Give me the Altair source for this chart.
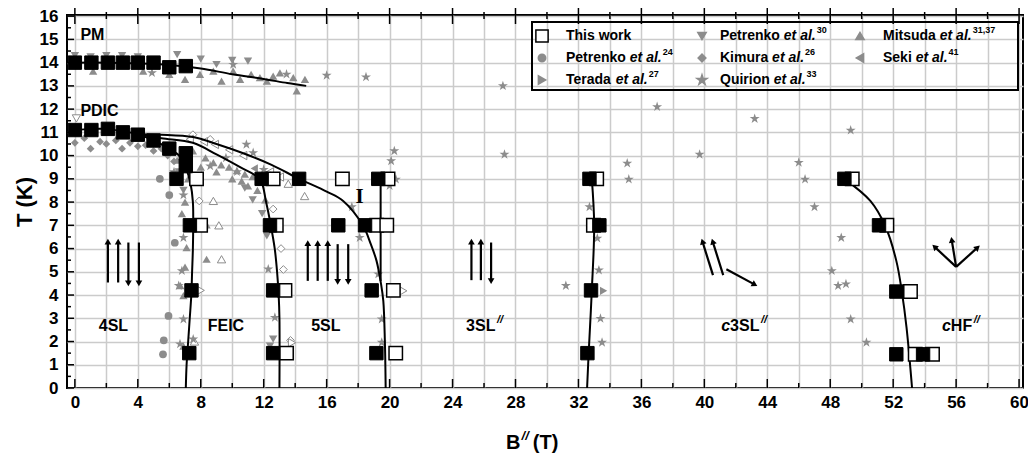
import math
import altair as alt
import pandas as pd

FONT = "Liberation Sans"
SERIF = "Liberation Serif"
GRAY = "#8c8c8c"
GRID = "#cbcbcb"

# ---------------- plot frame / scales ----------------
W, H = 956, 373
X_DOMAIN = [-0.5, 60.25]
Y_DOMAIN = [0.0, 16.05]
PX_B = W / (X_DOMAIN[1] - X_DOMAIN[0])
PX_T = H / (Y_DOMAIN[1] - Y_DOMAIN[0])

x_grid = list(range(0, 61, 2))
x_major = list(range(0, 61, 4))
x_minor = [v for v in x_grid if v % 4]
y_major = list(range(0, 17))
y_minor = [v + 0.5 for v in range(0, 16)]

# ---------------- This work ----------------
tw_fill_B = [0.0, 1.05, 2.1, 3.05, 4.0, 5.0, 6.0, 7.05,
             0.0, 1.05, 2.1, 3.05, 4.0, 5.0, 6.0, 7.05, 7.05,
             6.46, 11.87, 14.25, 19.28, 32.7, 48.9,
             7.31, 12.4, 16.74, 18.44, 33.33, 51.1,
             7.41, 12.6, 18.86, 32.8, 52.2,
             7.27, 12.6, 19.16, 32.57, 52.2, 53.9]
tw_fill_T = [14.0, 14.0, 14.0, 14.0, 14.0, 14.0, 13.8, 13.85,
             11.1, 11.1, 11.15, 11.0, 10.9, 10.65, 10.3, 10.1, 9.55,
             9.0, 9.0, 9.0, 9.0, 9.0, 9.0,
             7.0, 7.0, 7.0, 7.0, 7.0, 7.0,
             4.2, 4.2, 4.2, 4.2, 4.15,
             1.5, 1.5, 1.5, 1.5, 1.45, 1.45]
tw_open_B = [7.73, 12.6, 17.0, 19.9, 33.16, 49.4,
             7.99, 12.8, 19.18, 19.82, 32.95, 51.6,
             13.35, 20.24, 53.1,
             13.45, 20.39, 53.4, 54.5]
tw_open_T = [9.0, 9.0, 9.0, 9.0, 9.0, 9.0,
             7.0, 7.0, 7.0, 7.0, 7.0, 7.0,
             4.2, 4.2, 4.15,
             1.5, 1.5, 1.45, 1.45]

# ---------------- literature data (grey) ----------------
p24_B = [5.4, 6.0, 6.35, 5.95, 5.65, 5.6]
p24_T = [9.0, 8.3, 6.25, 3.1, 2.05, 1.45]

ter_B = [33.6]
ter_T = [4.18]
ter_open_B = [20.87, 8.0, 13.8]
ter_open_T = [4.18, 4.2, 1.95]

p30_B = [0.0, 1.0, 2.0, 3.0, 4.0, 6.5, 8.0, 9.0, 10.0, 11.0,
         6.6, 6.9, 10.8, 11.3, 11.9, 12.2, 12.6, 12.4]
p30_T = [14.3, 14.25, 14.3, 14.3, 14.25, 14.35, 14.15, 13.92, 14.1, 14.07,
         9.3, 8.5, 8.6, 8.1, 7.5, 6.55, 2.1, 1.8]
p30_open_B = [0.1]
p30_open_T = [11.6]

kim_B = [0.0, 0.6, 1.0, 1.6, 2.0, 2.6, 3.0, 3.5, 4.0, 4.5, 5.0, 5.5, 5.9, 6.3, 6.7]
kim_T = [10.55, 10.75, 10.3, 10.6, 10.5, 10.65, 10.3, 10.55, 10.4, 10.45, 10.2, 10.3, 10.0, 9.75, 9.3]
kim_open_B = [7.5, 8.6, 12.6, 13.1, 13.25, 13.7, 7.9]
kim_open_T = [10.9, 10.7, 7.7, 6.0, 5.1, 2.05, 8.05]

qui_B = [4.9, 10.06, 13.45, 16.0, 18.5, 27.2,
         10.9, 11.33, 9.6, 8.6, 10.3, 12.0,
         20.3, 20.1, 20.4, 20.0, 17.6, 18.1, 19.28, 19.5, 19.5,
         6.9, 6.8, 6.6, 6.9, 7.52, 6.68, 12.29, 12.71, 6.3, 6.9,
         27.3, 35.1, 35.2, 39.7, 37.0, 32.7, 33.2, 33.3, 31.2, 33.4, 33.5,
         43.2, 49.3, 46.0, 46.4, 47.0, 48.7, 48.1, 48.5, 49.0, 49.3, 50.3]
qui_T = [13.56, 13.92, 13.5, 13.45, 13.38, 13.0,
         10.48, 10.12, 9.9, 9.55, 9.3, 9.4,
         10.2, 9.77, 8.98, 8.7, 7.79, 6.47, 4.9, 2.96, 1.96,
         6.47, 5.04, 4.4, 2.96, 2.1, 1.89, 5.11, 3.03, 9.3, 8.3,
         10.05, 9.67, 8.98, 10.05, 12.1, 7.79, 6.44, 5.07, 4.4, 2.99, 1.96,
         11.59, 11.09, 9.7, 8.98, 7.79, 6.47, 5.04, 4.4, 4.47, 2.96, 1.96]

mit_B = [1.16, 4.34, 6.0, 7.0, 7.95, 8.8, 9.32, 10.06, 10.5, 11.2, 11.76, 12.2, 12.6, 13.03,
         13.88, 14.1, 14.62,
         6.5, 6.9, 7.2, 7.5, 8.0, 8.3, 8.8, 9.3, 9.8, 10.3, 10.8, 11.3, 9.0, 10.0, 10.6,
         11.6, 12.1, 11.0,
         7.1, 6.9, 6.8, 7.0, 6.9, 8.37, 8.37, 6.7, 7.0]
mit_T = [13.64, 13.64, 13.5, 13.28, 13.5, 13.64, 13.2, 13.64, 13.28, 13.5, 13.35, 13.2, 13.42, 13.56,
         13.35, 12.78, 13.28,
         9.8, 9.4, 9.0, 10.2, 9.5, 9.9, 9.7, 9.6, 9.5, 9.35, 9.2, 9.1, 9.3, 9.0, 8.9,
         8.5, 8.1, 8.7,
         6.04, 3.97, 7.5, 5.2, 1.8, 5.54, 7.02, 4.4, 8.0]
mit_open_B = [8.8, 9.15, 9.32, 13.56, 14.6, 7.6]
mit_open_T = [8.05, 7.0, 5.54, 8.79, 8.26, 2.0]

sek_B = [11.4, 12.2]
sek_T = [9.45, 9.15]
sek_open_B = [7.3, 8.2, 8.9, 9.8, 10.7, 13.03, 12.4]
sek_open_T = [10.7, 10.6, 10.48, 10.25, 10.0, 9.08, 9.3]

# ---------------- phase boundaries ----------------
pm_B = [0.0, 2.0, 4.0, 6.0, 8.0, 10.0, 12.0, 13.5, 14.7]
pm_T = [14.0, 14.0, 13.97, 13.9, 13.75, 13.5, 13.3, 13.12, 13.0]

feic_B = [0.0, 1.0, 2.0, 3.0, 4.0, 5.0, 6.0, 6.7, 7.1, 7.35, 7.5, 7.52, 7.5, 7.45, 7.4, 7.3, 7.2, 7.1, 7.05]
feic_T = [11.1, 11.15, 11.15, 11.05, 10.92, 10.65, 10.3, 9.95, 9.4, 8.8, 8.0, 7.0, 6.0, 5.0, 4.0, 3.0, 2.0, 1.0, 0.0]

mid_B = [4.0, 5.5, 7.5, 9.0, 10.5, 11.76, 12.15, 12.45, 12.7, 12.85, 12.95, 13.0, 13.0]
mid_T = [10.92, 10.75, 10.55, 10.05, 9.5, 8.98, 8.0, 7.0, 6.0, 5.0, 4.0, 3.0, 0.0]

up_B = [4.0, 5.5, 7.5, 9.0, 10.7, 12.5, 14.25, 16.0, 17.05, 18.3, 18.8, 19.17, 19.45, 19.6, 19.7, 19.75]
up_T = [10.92, 10.9, 10.8, 10.5, 10.1, 9.6, 9.0, 8.45, 8.05, 7.0, 6.2, 5.47, 4.5, 3.75, 2.0, 0.0]

vert_B = [19.43, 19.43]
vert_T = [9.0, 4.6]

l32_B = [32.85, 33.0, 32.85, 32.65, 32.55]
l32_T = [9.0, 7.0, 4.2, 1.5, 0.0]

l52_B = [48.9, 50.55, 51.5, 52.2, 52.55, 52.85, 53.2]
l52_T = [9.0, 8.05, 6.97, 5.47, 4.15, 2.6, 0.0]

# ---------------- spin arrows (tail -> head) ----------------
arr_B0 = [2.1, 2.75, 3.4, 4.07,
          14.8, 15.43, 16.07, 16.7, 17.37,
          25.2, 25.8, 26.45,
          40.55, 41.2, 41.4,
          56.0, 56.0, 56.0]
arr_T0 = [4.54, 4.54, 6.26, 6.26,
          4.61, 4.61, 4.61, 6.19, 6.19,
          4.64, 4.64, 6.26,
          4.86, 4.86, 5.11,
          5.21, 5.21, 5.21]
arr_B1 = [2.1, 2.75, 3.4, 4.07,
          14.8, 15.43, 16.07, 16.7, 17.37,
          25.2, 25.8, 26.45,
          39.9, 40.55, 43.15,
          54.67, 55.73, 57.32]
arr_T1 = [6.26, 6.26, 4.54, 4.54,
          6.19, 6.19, 6.19, 4.61, 4.61,
          6.26, 6.26, 4.64,
          6.26, 6.26, 4.47,
          6.05, 6.33, 6.02]

# ---------------- region labels ----------------
reg_center_txt = ["4SL", "FEIC", "5SL"]
reg_center_B = [2.45, 9.6, 15.95]
reg_center_T = [2.68, 2.68, 2.68]

STAR = ("M0,-1L0.2245,-0.309L0.9511,-0.309L0.3633,0.118L0.5878,0.809L0,0.382"
        "L-0.5878,0.809L-0.3633,0.118L-0.9511,-0.309L-0.2245,-0.309Z")

# ---------------- legend ----------------
leg_names = ["This work", "Petrenko", "Terada", "Petrenko", "Kimura", "Quirion", "Mitsuda", "Seki"]
leg_refs = ["", "24", "27", "30", "26", "33", "31,37", "41"]
leg_col = [0, 0, 0, 1, 1, 1, 2, 2]
leg_row = [0, 1, 2, 0, 1, 2, 0, 1]
leg_shape = ["square", "circle", "triangle-right", "triangle-down", "diamond", STAR,
             "triangle-up", "triangle-left"]

# Arial-bold advance widths (1/1000 em) for layout of mixed-style text
AW = {" ": 278, ".": 278, ",": 278, "/": 278, "(": 333, ")": 333,
      "A": 722, "B": 722, "C": 722, "D": 722, "E": 667, "F": 611, "H": 722, "I": 278,
      "K": 722, "L": 611, "M": 833, "P": 667, "Q": 778, "S": 667, "T": 611,
      "a": 556, "c": 556, "d": 611, "e": 556, "h": 611, "i": 278, "k": 556, "l": 278,
      "m": 889, "n": 611, "o": 611, "r": 389, "s": 556, "t": 333, "u": 611, "w": 778}


def tw(s, size):
    return sum(AW.get(ch, 556) for ch in s) * size / 1000.0


xs = alt.Scale(domain=X_DOMAIN, nice=False, zero=False)
ys = alt.Scale(domain=Y_DOMAIN, nice=False, zero=False)
x_axis = alt.Axis(values=x_grid, grid=True, gridColor=GRID, gridWidth=1.5, ticks=False,
                  domain=False, labelExpr="datum.value % 4 === 0 ? datum.label : ''",
                  labelFont=FONT, labelFontSize=17, labelFontWeight="bold", labelColor="black",
                  labelPadding=6, labelOverlap=False, labelFlush=False, title=None)
y_axis = alt.Axis(values=y_major, grid=True, gridColor=GRID, gridWidth=1.5, ticks=False,
                  domain=False, labelFont=FONT, labelFontSize=17, labelFontWeight="bold",
                  labelColor="black", labelPadding=9, labelOverlap=False, labelFlush=False,
                  title="T (K)", titleFont=FONT, titleFontSize=22, titleFontWeight="bold",
                  titleColor="black", titlePadding=3)


def XE(f="B"):
    return alt.X(f + ":Q", scale=xs, axis=x_axis)


def YE(f="T"):
    return alt.Y(f + ":Q", scale=ys, axis=y_axis)


def df(B, T):
    return pd.DataFrame({"B": B, "T": T})


def pts(B, T, shape, fill, stroke, size, sw=1.0):
    return alt.Chart(df(B, T)).mark_point(
        shape=shape, filled=True, fill=fill, stroke=stroke, strokeWidth=sw, size=size, opacity=1
    ).encode(x=XE(), y=YE())


def curve(B, T, interp="catmull-rom"):
    d = pd.DataFrame({"B": B, "T": T, "i": list(range(len(B)))})
    return alt.Chart(d).mark_line(color="black", strokeWidth=2, interpolate=interp).encode(
        x=XE(), y=YE(), order="i:Q")


layers = []

# grid + axes carrier
layers.append(alt.Chart(df(x_grid[:1], y_major[:1])).mark_point(opacity=0).encode(x=XE(), y=YE()))

# grey literature symbols: open first, then filled
layers += [
    pts(kim_open_B, kim_open_T, "diamond", "white", GRAY, 60),
    pts(mit_open_B, mit_open_T, "triangle-up", "white", GRAY, 70),
    pts(sek_open_B, sek_open_T, "triangle-left", "white", GRAY, 70),
    pts(ter_open_B, ter_open_T, "triangle-right", "white", GRAY, 70),
    pts(p30_open_B, p30_open_T, "triangle-down", "white", GRAY, 70),
    pts(p24_B, p24_T, "circle", GRAY, GRAY, 60, 0),
    pts(kim_B, kim_T, "diamond", GRAY, GRAY, 60, 0),
    pts(mit_B, mit_T, "triangle-up", GRAY, GRAY, 70, 0),
    pts(p30_B, p30_T, "triangle-down", GRAY, GRAY, 70, 0),
    pts(sek_B, sek_T, "triangle-left", GRAY, GRAY, 70, 0),
    pts(ter_B, ter_T, "triangle-right", GRAY, GRAY, 70, 0),
    pts(qui_B, qui_T, STAR, GRAY, GRAY, 110, 0),
]

# phase boundaries
layers += [curve(pm_B, pm_T), curve(feic_B, feic_T), curve(mid_B, mid_T), curve(up_B, up_T),
           curve(vert_B, vert_T, "linear"), curve(l32_B, l32_T), curve(l52_B, l52_T)]

# this work
layers += [pts(tw_open_B, tw_open_T, "square", "white", "black", 180, 1.5),
           pts(tw_fill_B, tw_fill_T, "square", "black", "black", 180, 1.0)]

# spin arrows
arr = pd.DataFrame({"B": arr_B0, "T": arr_T0, "B2": arr_B1, "T2": arr_T1})
layers.append(alt.Chart(arr).mark_rule(color="black", strokeWidth=2.2).encode(
    x=XE(), y=YE(), x2="B2:Q", y2="T2:Q"))
heads = pd.DataFrame({
    "B": arr_B1, "T": arr_T1,
    "ang": [math.degrees(math.atan2((b1 - b0) * PX_B, (t1 - t0) * PX_T)) % 360
            for b0, t0, b1, t1 in zip(arr_B0, arr_T0, arr_B1, arr_T1)]})
layers.append(alt.Chart(heads).mark_point(shape="triangle", filled=True, color="black",
                                          size=45, opacity=1).encode(
    x=XE(), y=YE(), angle=alt.Angle("ang:Q", scale=None)))

# region labels
lab_font = dict(font=FONT, fontSize=16, fontWeight="bold", color="black", baseline="middle")
layers.append(alt.Chart(pd.DataFrame({"B": reg_center_B, "T": reg_center_T, "t": reg_center_txt}))
              .mark_text(align="center", **lab_font).encode(x=XE(), y=YE(), text="t:N"))

# 3SL//, c3SL//, cHF//  (left anchored, pieces laid out by text width)
sl3_left = 24.86
c3_left = 41.07
chf_left = 55.1
lab_T = 2.68
main_parts = pd.DataFrame({
    "B": [sl3_left, c3_left + tw("c", 16) / PX_B, chf_left + tw("c", 16) / PX_B],
    "T": [lab_T] * 3, "t": ["3SL", "3SL", "HF"]})
layers.append(alt.Chart(main_parts).mark_text(align="left", **lab_font).encode(
    x=XE(), y=YE(), text="t:N"))
ital_parts = pd.DataFrame({"B": [c3_left, chf_left], "T": [lab_T] * 2, "t": ["c", "c"]})
layers.append(alt.Chart(ital_parts).mark_text(align="left", fontStyle="italic", **lab_font)
              .encode(x=XE(), y=YE(), text="t:N"))
sup_parts = pd.DataFrame({
    "B": [sl3_left + (tw("3SL", 16) + 1.5) / PX_B,
          c3_left + (tw("c3SL", 16) + 1.5) / PX_B,
          chf_left + (tw("cHF", 16) + 1.5) / PX_B],
    "T": [lab_T] * 3, "t": ["//"] * 3})
layers.append(alt.Chart(sup_parts).mark_text(align="left", font=FONT, fontSize=11,
                                             fontWeight="bold", fontStyle="italic",
                                             baseline="middle", dy=-6, color="black")
              .encode(x=XE(), y=YE(), text="t:N"))

# PM / PDIC
layers.append(alt.Chart(pd.DataFrame({"B": [0.35, 0.35], "T": [15.2, 11.9], "t": ["PM", "PDIC"]}))
              .mark_text(align="left", **lab_font).encode(x=XE(), y=YE(), text="t:N"))
# roman numeral I
layers.append(alt.Chart(pd.DataFrame({"B": [18.1], "T": [8.2], "t": ["I"]}))
              .mark_text(align="center", baseline="middle", font=SERIF, fontSize=21,
                         fontWeight="bold", color="black").encode(x=XE(), y=YE(), text="t:N"))

# axis ticks (inside)
layers += [
    alt.Chart(pd.DataFrame({"B": x_major})).mark_rule(color="black", strokeWidth=1.5).encode(
        x=XE(), y=alt.value(H), y2=alt.value(H - 9)),
    alt.Chart(pd.DataFrame({"B": x_minor})).mark_rule(color="black", strokeWidth=1.5).encode(
        x=XE(), y=alt.value(H), y2=alt.value(H - 5)),
    alt.Chart(pd.DataFrame({"B": x_major})).mark_rule(color="black", strokeWidth=1.5).encode(
        x=XE(), y=alt.value(-7), y2=alt.value(9)),
    alt.Chart(pd.DataFrame({"B": x_minor})).mark_rule(color="black", strokeWidth=1.5).encode(
        x=XE(), y=alt.value(-3), y2=alt.value(4)),
    alt.Chart(pd.DataFrame({"T": y_major})).mark_rule(color="black", strokeWidth=1.5).encode(
        y=YE(), x=alt.value(0), x2=alt.value(7)),
    alt.Chart(pd.DataFrame({"T": y_minor})).mark_rule(color="black", strokeWidth=1.5).encode(
        y=YE(), x=alt.value(0), x2=alt.value(4)),
]

# x-axis title B// (T)
xt_center = W / 2.0 - 10
xt_total = tw("B", 20) + tw("//", 13) + 5 + tw(" (T)", 20)
xt_left = xt_center - xt_total / 2.0
xt_y = H + 55
xtitle = pd.DataFrame({"px": [xt_left, xt_left + tw("B", 20) + tw("//", 13) + 5],
                       "py": [xt_y, xt_y], "t": ["B", "(T)"]})
layers.append(alt.Chart(xtitle).mark_text(align="left", baseline="middle", font=FONT, fontSize=20,
                                          fontWeight="bold", color="black").encode(
    x=alt.X("px:Q", scale=None, axis=None), y=alt.Y("py:Q", scale=None, axis=None), text="t:N"))
layers.append(alt.Chart(pd.DataFrame({"px": [xt_left + tw("B", 20) + 1], "py": [xt_y - 7],
                                      "t": ["//"]}))
              .mark_text(align="left", baseline="middle", font=FONT, fontSize=13, fontWeight="bold",
                         fontStyle="italic", color="black").encode(
    x=alt.X("px:Q", scale=None, axis=None), y=alt.Y("py:Q", scale=None, axis=None), text="t:N"))

# legend (box, symbols, labels)
BOX = dict(x0=465, x1=951, y0=7, y1=75)
col_sym_x = [475, 635, 793]
col_txt_x = [499, 653, 816]
row_y = [21, 43, 65]
layers.append(alt.Chart(pd.DataFrame({"a": [0]})).mark_rect(
    fill="white", fillOpacity=0, stroke="black", strokeWidth=2).encode(
    x=alt.value(BOX["x0"]), x2=alt.value(BOX["x1"]), y=alt.value(BOX["y0"]), y2=alt.value(BOX["y1"])))

leg = pd.DataFrame({
    "px": [col_sym_x[c] for c in leg_col],
    "py": [row_y[r] for r in leg_row],
    "shp": leg_shape,
    "fc": ["white"] + [GRAY] * 7,
    "sc": ["black"] + [GRAY] * 7,
    "sz": [150, 55, 70, 70, 60, 110, 70, 70],
})
layers.append(alt.Chart(leg).mark_point(filled=True, opacity=1, strokeWidth=1.5).encode(
    x=alt.X("px:Q", scale=None, axis=None), y=alt.Y("py:Q", scale=None, axis=None),
    shape=alt.Shape("shp:N", scale=None), fill=alt.Fill("fc:N", scale=None),
    stroke=alt.Stroke("sc:N", scale=None), size=alt.Size("sz:Q", scale=None)))

LF = 14
leg_txt = pd.DataFrame({"px": [col_txt_x[c] for c in leg_col], "py": [row_y[r] for r in leg_row],
                        "t": leg_names})
layers.append(alt.Chart(leg_txt).mark_text(align="left", baseline="middle", font=FONT, fontSize=LF,
                                           fontWeight="bold", color="black").encode(
    x=alt.X("px:Q", scale=None, axis=None), y=alt.Y("py:Q", scale=None, axis=None), text="t:N"))
etal_rows = [i for i in range(len(leg_names)) if leg_refs[i]]
etal = pd.DataFrame({
    "px": [col_txt_x[leg_col[i]] + tw(leg_names[i] + " ", LF) for i in etal_rows],
    "py": [row_y[leg_row[i]] for i in etal_rows],
    "t": ["et al."] * len(etal_rows)})
layers.append(alt.Chart(etal).mark_text(align="left", baseline="middle", font=FONT, fontSize=LF,
                                        fontWeight="bold", fontStyle="italic", color="black").encode(
    x=alt.X("px:Q", scale=None, axis=None), y=alt.Y("py:Q", scale=None, axis=None), text="t:N"))
sup = pd.DataFrame({
    "px": [col_txt_x[leg_col[i]] + tw(leg_names[i] + " et al.", LF) + 1 for i in etal_rows],
    "py": [row_y[leg_row[i]] - 6 for i in etal_rows],
    "t": [leg_refs[i] for i in etal_rows]})
layers.append(alt.Chart(sup).mark_text(align="left", baseline="middle", font=FONT, fontSize=9,
                                       fontWeight="bold", color="black").encode(
    x=alt.X("px:Q", scale=None, axis=None), y=alt.Y("py:Q", scale=None, axis=None), text="t:N"))

chart = alt.layer(*layers).properties(
    width=W, height=H,
    padding={"left": 59, "top": 7, "right": 5, "bottom": 70},
    autosize=alt.AutoSizeParams(type="none"),
).configure_view(stroke="black", strokeWidth=2)

chart.save("out.html", embed_options={"renderer": "svg", "actions": False})
